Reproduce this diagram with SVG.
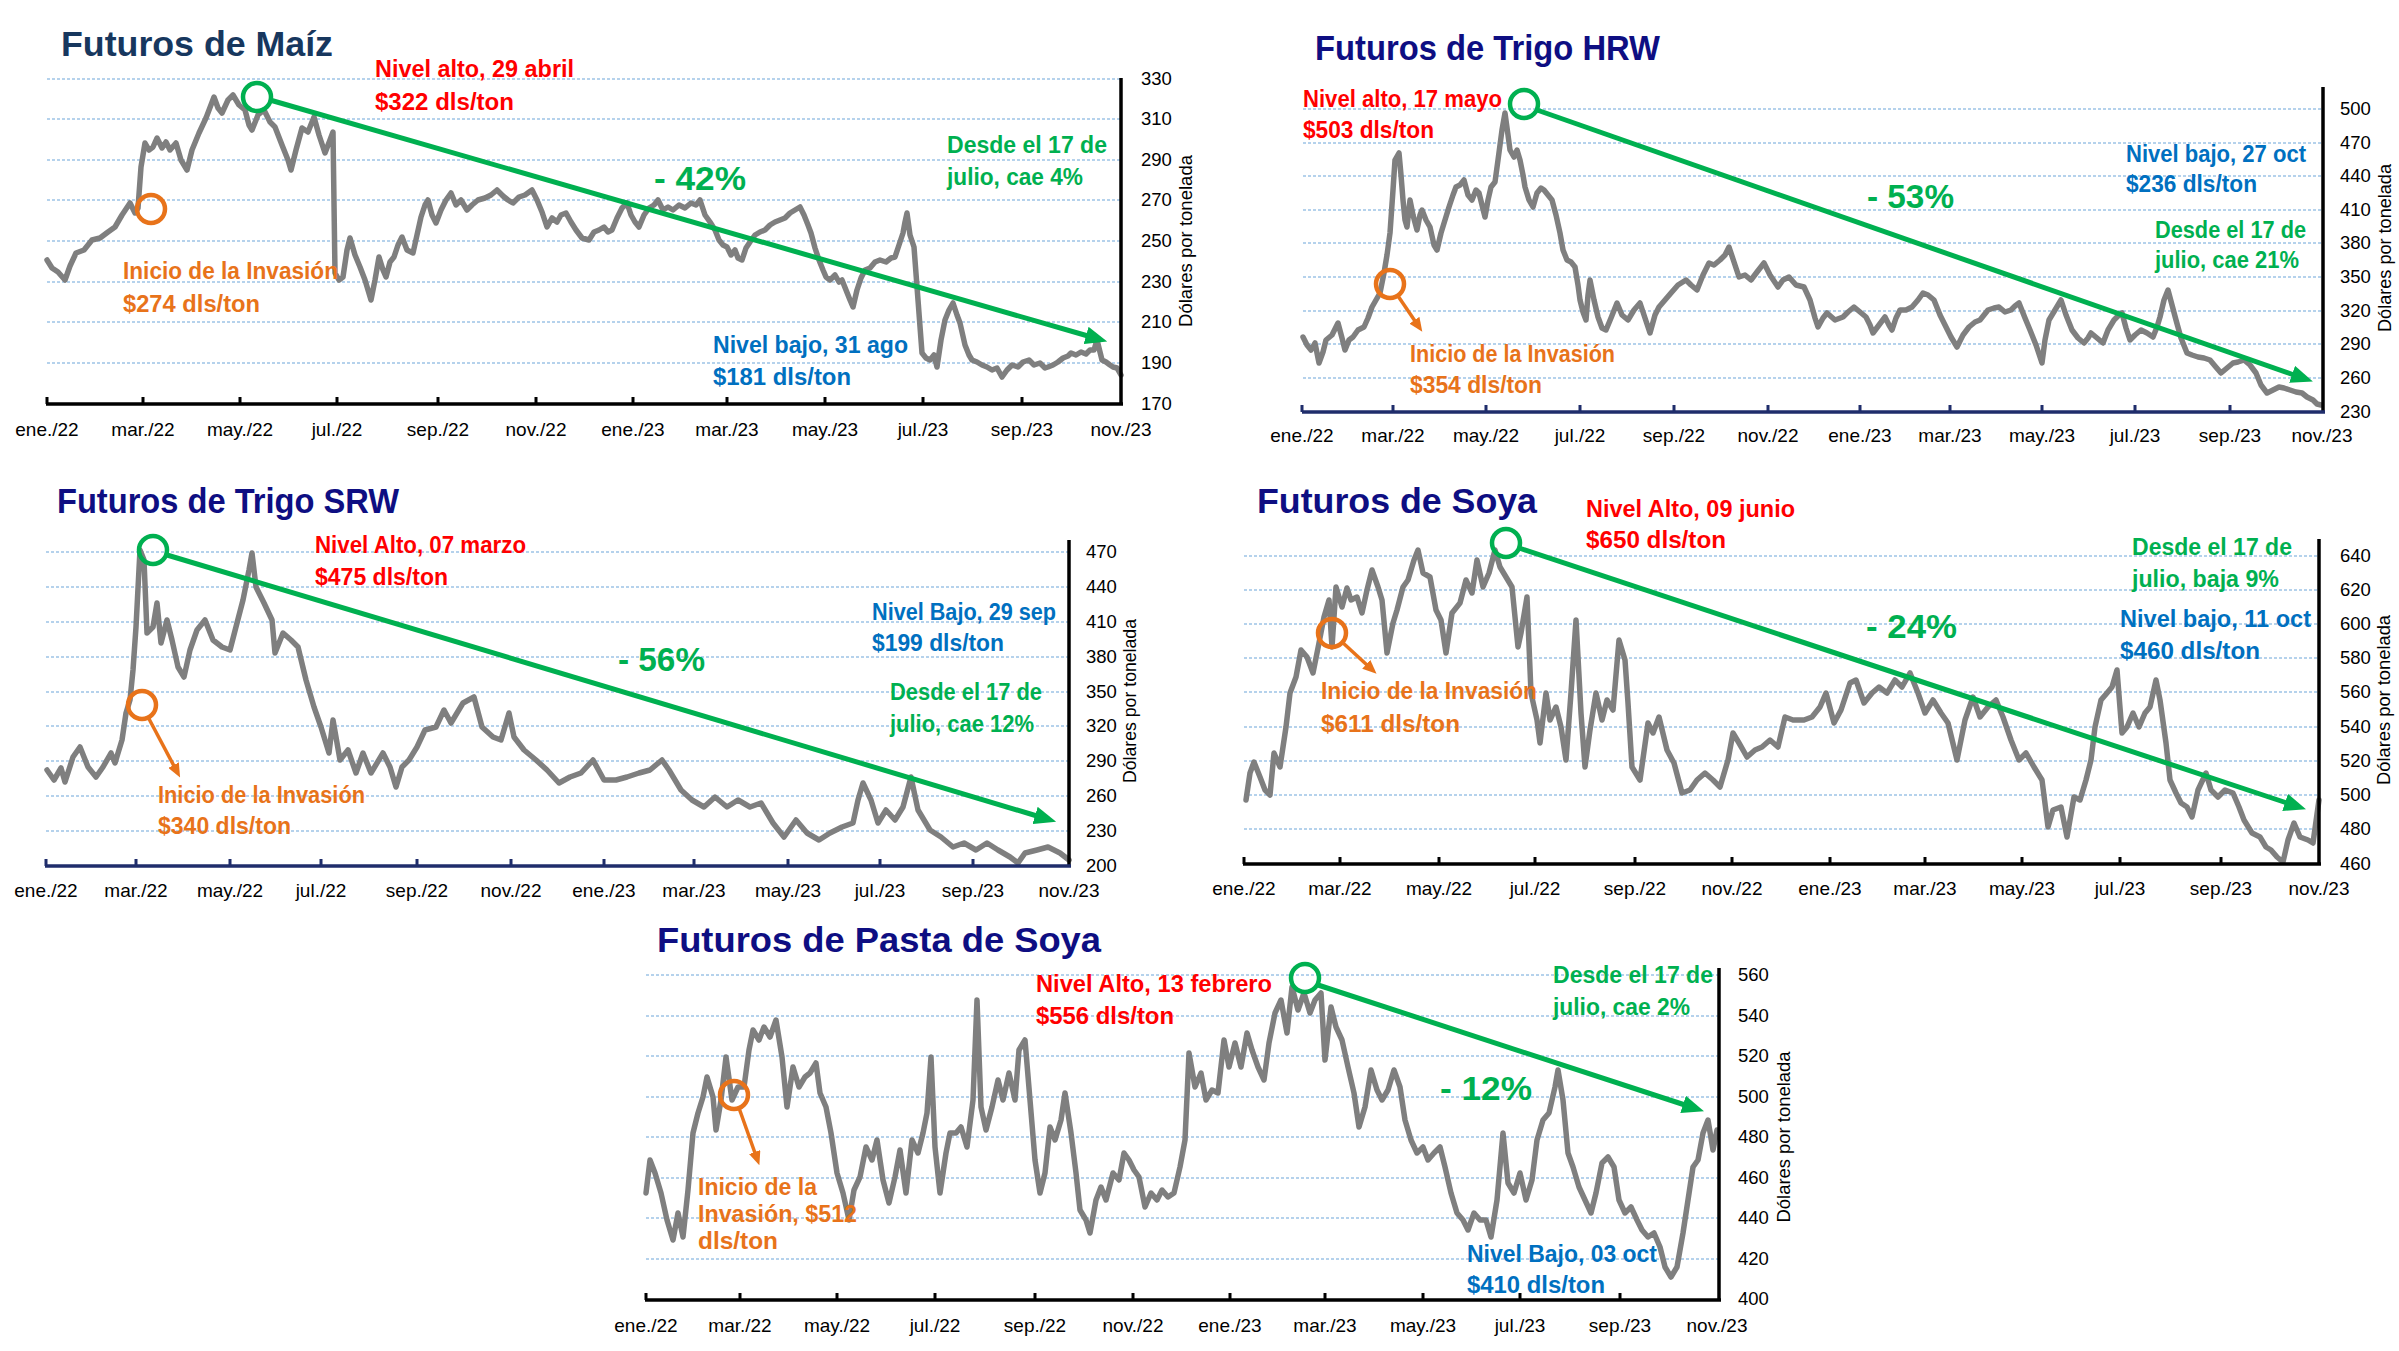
<svg xmlns="http://www.w3.org/2000/svg" width="2399" height="1351" viewBox="0 0 2399 1351">
<style>
.grid{stroke:#9DC3E6;stroke-width:1.3;stroke-dasharray:3 2;fill:none}
.series{fill:none;stroke:#7F7F7F;stroke-width:5.5;stroke-linejoin:round;stroke-linecap:round}
.ax{stroke:#000;stroke-width:3.5;fill:none}
.axn{stroke:#1F2D6B}
.tick{stroke-width:3}
.lbl{font-family:"Liberation Sans",Arial,sans-serif;font-size:19px;fill:#000;text-anchor:middle}
.ylbl{font-family:"Liberation Sans",Arial,sans-serif;font-size:18.5px;fill:#000}
.ytitle{font-family:"Liberation Sans",Arial,sans-serif;font-size:18px;fill:#000;text-anchor:middle}
.title{font-family:"Liberation Sans",Arial,sans-serif;font-weight:bold;font-size:35px;fill:#0E0E82}
.ann{font-family:"Liberation Sans",Arial,sans-serif;font-weight:bold;font-size:23px}
.pct{font-size:34px}
.red{fill:#FF0000}.blue{fill:#0070C0}.grn{fill:#00B050}.org{fill:#E8731A}
.gc{fill:none;stroke:#00B050;stroke-width:4.5}
.oc{fill:none;stroke:#E8731A;stroke-width:4.5}
.garrow{stroke:#00B050;stroke-width:5;fill:none;marker-end:url(#gh)}
.oarrow{stroke:#E8731A;stroke-width:3.5;fill:none;marker-end:url(#oh)}
</style>
<defs>
<marker id="gh" markerUnits="userSpaceOnUse" markerWidth="22" markerHeight="18" viewBox="0 0 22 18" refX="2" refY="9" orient="auto"><path d="M0,0 L22,9 L0,18 z" fill="#00B050"/></marker>
<marker id="oh" markerUnits="userSpaceOnUse" markerWidth="14" markerHeight="12" viewBox="0 0 14 12" refX="1" refY="6" orient="auto"><path d="M0,0 L14,6 L0,12 z" fill="#E8731A"/></marker>
</defs>
<rect width="2399" height="1351" fill="#fff"/>

<!-- ============ Chart 1: Maíz ============ -->
<g id="chart-maiz">
<g id="maiz-grid">
<line class="grid" x1="47" y1="79" x2="1121" y2="79"/>
<line class="grid" x1="47" y1="119" x2="1121" y2="119"/>
<line class="grid" x1="47" y1="160" x2="1121" y2="160"/>
<line class="grid" x1="47" y1="200" x2="1121" y2="200"/>
<line class="grid" x1="47" y1="241" x2="1121" y2="241"/>
<line class="grid" x1="47" y1="282" x2="1121" y2="282"/>
<line class="grid" x1="47" y1="322" x2="1121" y2="322"/>
<line class="grid" x1="47" y1="363" x2="1121" y2="363"/>
</g>
<polyline id="maiz-series" class="series" points="47,260 52,268 58,272 65,280 70,266 76,253 84,250 92,240 100,238 108,232 115,227 122,215 130,203 135,213 138,208 141,167 145,143 149,150 153,147 157,138 162,148 166,142 170,150 176,143 181,160 187,170 192,150 199,133 206,118 214,97 218,108 222,113 228,100 233,95 239,105 245,110 249,125 252,130 258,115 264,110 270,122 275,127 282,145 288,160 291,170 296,150 302,128 308,132 314,117 319,135 325,153 330,140 333,132 335,273 339,280 343,277 347,250 350,238 355,255 360,267 365,280 371,300 375,280 379,257 383,270 386,277 390,262 394,257 398,245 402,237 407,250 413,253 417,235 421,217 425,205 428,200 432,215 436,223 441,210 446,200 451,193 456,205 461,200 467,210 472,205 478,200 485,198 491,195 497,190 503,196 508,200 513,203 519,197 525,195 532,190 537,200 542,212 547,227 552,218 557,222 561,215 566,213 571,222 576,230 582,238 589,240 594,232 599,230 604,227 608,232 612,230 617,218 622,208 627,203 631,215 635,222 639,227 644,215 649,208 654,205 658,200 663,210 668,207 673,210 679,205 685,208 691,203 696,205 700,200 705,215 710,222 715,230 719,240 723,245 727,247 731,255 735,250 738,258 742,260 746,248 750,242 755,235 760,232 765,230 770,225 775,222 780,220 785,218 790,213 795,210 800,207 804,215 808,225 811,233 815,248 819,260 823,270 826,277 830,280 835,275 839,282 842,280 846,290 850,300 853,307 857,290 861,278 865,270 870,268 875,262 880,260 886,262 891,258 895,257 899,245 903,233 905,222 907,213 910,235 914,247 918,300 922,353 926,358 930,360 934,355 937,367 941,340 945,320 949,310 953,303 957,315 960,323 965,345 969,355 972,360 977,362 982,365 987,367 992,370 997,368 1002,377 1007,370 1012,365 1018,367 1023,362 1029,360 1034,365 1040,363 1045,368 1048,367 1053,365 1058,362 1063,358 1068,356 1071,353 1076,355 1081,352 1086,354 1090,350 1094,350 1097,340 1100,352 1102,360 1106,362 1110,365 1113,367 1117,368 1121,375"/>
<g id="maiz-axes">
<line class="ax" x1="1121" y1="78" x2="1121" y2="405"/>
<line class="ax" x1="46" y1="404" x2="1123" y2="404"/>
<path class="ax tick" d="M47,404V397M143,404V397M240,404V397M337,404V397M438,404V397M536,404V397M633,404V397M727,404V397M825,404V397M923,404V397M1022,404V397"/>
<text class="ylbl" x="1141" y="85">330</text>
<text class="ylbl" x="1141" y="125">310</text>
<text class="ylbl" x="1141" y="166">290</text>
<text class="ylbl" x="1141" y="206">270</text>
<text class="ylbl" x="1141" y="247">250</text>
<text class="ylbl" x="1141" y="288">230</text>
<text class="ylbl" x="1141" y="328">210</text>
<text class="ylbl" x="1141" y="369">190</text>
<text class="ylbl" x="1141" y="410">170</text>
<text class="ytitle" transform="translate(1192,241) rotate(-90)" textLength="172" lengthAdjust="spacingAndGlyphs">Dólares por tonelada</text>
<text class="lbl" x="47" y="436">ene./22</text>
<text class="lbl" x="143" y="436">mar./22</text>
<text class="lbl" x="240" y="436">may./22</text>
<text class="lbl" x="337" y="436">jul./22</text>
<text class="lbl" x="438" y="436">sep./22</text>
<text class="lbl" x="536" y="436">nov./22</text>
<text class="lbl" x="633" y="436">ene./23</text>
<text class="lbl" x="727" y="436">mar./23</text>
<text class="lbl" x="825" y="436">may./23</text>
<text class="lbl" x="923" y="436">jul./23</text>
<text class="lbl" x="1022" y="436">sep./23</text>
<text class="lbl" x="1121" y="436">nov./23</text>
</g>
<text id="maiz-title" class="title" x="61" y="56" textLength="272" lengthAdjust="spacingAndGlyphs" style="fill:#17375E">Futuros de Maíz</text>
<g id="maiz-high"><circle class="gc" cx="257" cy="97" r="14"/>
<text class="ann red" x="375" y="77" textLength="199" lengthAdjust="spacingAndGlyphs">Nivel alto, 29 abril</text>
<text class="ann red" x="375" y="110" textLength="139" lengthAdjust="spacingAndGlyphs">$322 dls/ton</text></g>
<g id="maiz-invasion"><circle class="oc" cx="151" cy="209" r="14"/>
<text class="ann org" x="123" y="279" textLength="215" lengthAdjust="spacingAndGlyphs">Inicio de la Invasión</text>
<text class="ann org" x="123" y="312" textLength="137" lengthAdjust="spacingAndGlyphs">$274 dls/ton</text></g>
<g id="maiz-low">
<text class="ann blue" x="713" y="353" textLength="195" lengthAdjust="spacingAndGlyphs">Nivel bajo, 31 ago</text>
<text class="ann blue" x="713" y="385" textLength="138" lengthAdjust="spacingAndGlyphs">$181 dls/ton</text></g>
<g id="maiz-change">
<text class="ann grn pct" x="654" y="190" textLength="92" lengthAdjust="spacingAndGlyphs">- 42%</text>
<text class="ann grn" x="947" y="153" textLength="160" lengthAdjust="spacingAndGlyphs">Desde el 17 de</text>
<text class="ann grn" x="947" y="185" textLength="136" lengthAdjust="spacingAndGlyphs">julio, cae 4%</text></g>
</g>

<!-- ============ Chart 2: Trigo HRW ============ -->
<g id="chart-hrw">
<g id="hrw-grid">
<line class="grid" x1="1303" y1="109" x2="2323" y2="109"/>
<line class="grid" x1="1303" y1="143" x2="2323" y2="143"/>
<line class="grid" x1="1303" y1="176" x2="2323" y2="176"/>
<line class="grid" x1="1303" y1="210" x2="2323" y2="210"/>
<line class="grid" x1="1303" y1="243" x2="2323" y2="243"/>
<line class="grid" x1="1303" y1="277" x2="2323" y2="277"/>
<line class="grid" x1="1303" y1="311" x2="2323" y2="311"/>
<line class="grid" x1="1303" y1="344" x2="2323" y2="344"/>
<line class="grid" x1="1303" y1="378" x2="2323" y2="378"/>
</g>
<polyline id="hrw-series" class="series" points="1303,337 1307,345 1311,350 1315,343 1319,363 1323,352 1326,340 1332,335 1338,323 1342,338 1345,350 1349,340 1353,337 1358,330 1364,327 1368,318 1372,307 1376,300 1380,293 1384,273 1387,255 1390,233 1393,190 1395,160 1399,153 1401,175 1403,200 1405,220 1407,227 1410,200 1413,215 1417,230 1420,215 1422,210 1426,220 1430,227 1434,245 1437,250 1441,233 1445,220 1449,207 1453,195 1456,187 1460,185 1464,180 1468,195 1472,200 1476,190 1479,193 1482,205 1485,217 1488,200 1491,187 1495,182 1498,160 1502,130 1505,113 1508,135 1510,150 1514,157 1517,150 1520,160 1523,175 1525,187 1529,200 1533,207 1537,193 1541,188 1544,190 1548,195 1552,200 1556,215 1560,233 1563,250 1567,260 1571,262 1575,267 1578,285 1580,300 1583,312 1586,320 1588,295 1590,280 1594,300 1598,317 1602,328 1606,330 1611,318 1617,303 1622,315 1628,320 1634,310 1640,303 1645,318 1650,333 1655,315 1659,307 1665,300 1671,293 1678,285 1686,280 1691,285 1697,290 1703,275 1709,263 1714,265 1720,260 1725,255 1729,247 1734,262 1739,277 1745,275 1751,280 1757,272 1764,263 1770,275 1778,287 1783,280 1789,277 1796,285 1804,287 1810,300 1815,318 1818,327 1823,318 1827,313 1835,320 1843,317 1848,312 1854,307 1860,312 1866,317 1870,325 1873,333 1879,325 1885,317 1889,325 1892,330 1896,318 1900,310 1906,310 1912,307 1918,300 1923,293 1928,295 1934,300 1940,315 1946,327 1951,337 1957,347 1963,335 1969,327 1975,322 1980,320 1984,315 1988,310 1994,308 1999,307 2005,312 2011,310 2015,306 2019,303 2025,318 2030,330 2036,345 2042,363 2045,340 2049,320 2055,310 2061,300 2066,315 2072,330 2078,338 2084,343 2088,338 2091,333 2097,338 2103,343 2108,330 2114,320 2118,316 2122,313 2126,328 2130,340 2135,335 2141,330 2147,333 2153,337 2157,327 2160,317 2164,300 2168,290 2172,305 2176,320 2181,338 2187,353 2192,355 2198,357 2204,358 2210,360 2215,366 2221,373 2227,368 2233,363 2238,362 2244,360 2250,365 2256,373 2261,385 2267,393 2273,390 2279,387 2284,388 2290,390 2296,392 2302,393 2307,397 2313,400 2317,404 2321,405"/>
<g id="hrw-axes">
<line class="ax" x1="2323" y1="87" x2="2323" y2="413"/>
<line class="ax axn" x1="1302" y1="412" x2="2325" y2="412"/>
<path class="ax axn tick" d="M1302,412V405M1393,412V405M1486,412V405M1580,412V405M1674,412V405M1768,412V405M1860,412V405M1950,412V405M2042,412V405M2135,412V405M2230,412V405"/>
<text class="ylbl" x="2340" y="115">500</text>
<text class="ylbl" x="2340" y="149">470</text>
<text class="ylbl" x="2340" y="182">440</text>
<text class="ylbl" x="2340" y="216">410</text>
<text class="ylbl" x="2340" y="249">380</text>
<text class="ylbl" x="2340" y="283">350</text>
<text class="ylbl" x="2340" y="317">320</text>
<text class="ylbl" x="2340" y="350">290</text>
<text class="ylbl" x="2340" y="384">260</text>
<text class="ylbl" x="2340" y="418">230</text>
<text class="ytitle" transform="translate(2391,248) rotate(-90)" textLength="168" lengthAdjust="spacingAndGlyphs">Dólares por tonelada</text>
<text class="lbl" x="1302" y="442">ene./22</text>
<text class="lbl" x="1393" y="442">mar./22</text>
<text class="lbl" x="1486" y="442">may./22</text>
<text class="lbl" x="1580" y="442">jul./22</text>
<text class="lbl" x="1674" y="442">sep./22</text>
<text class="lbl" x="1768" y="442">nov./22</text>
<text class="lbl" x="1860" y="442">ene./23</text>
<text class="lbl" x="1950" y="442">mar./23</text>
<text class="lbl" x="2042" y="442">may./23</text>
<text class="lbl" x="2135" y="442">jul./23</text>
<text class="lbl" x="2230" y="442">sep./23</text>
<text class="lbl" x="2322" y="442">nov./23</text>
</g>
<text id="hrw-title" class="title" x="1315" y="60" textLength="345" lengthAdjust="spacingAndGlyphs">Futuros de Trigo HRW</text>
<g id="hrw-high"><circle class="gc" cx="1524" cy="104" r="14"/>
<text class="ann red" x="1303" y="107" textLength="199" lengthAdjust="spacingAndGlyphs">Nivel alto, 17 mayo</text>
<text class="ann red" x="1303" y="138" textLength="131" lengthAdjust="spacingAndGlyphs">$503 dls/ton</text></g>
<g id="hrw-invasion"><circle class="oc" cx="1390" cy="284" r="14"/>
<text class="ann org" x="1410" y="362" textLength="205" lengthAdjust="spacingAndGlyphs">Inicio de la Invasión</text>
<text class="ann org" x="1410" y="393" textLength="132" lengthAdjust="spacingAndGlyphs">$354 dls/ton</text></g>
<g id="hrw-low">
<text class="ann blue" x="2126" y="162" textLength="180" lengthAdjust="spacingAndGlyphs">Nivel bajo, 27 oct</text>
<text class="ann blue" x="2126" y="192" textLength="131" lengthAdjust="spacingAndGlyphs">$236 dls/ton</text></g>
<g id="hrw-change">
<text class="ann grn pct" x="1867" y="208" textLength="87" lengthAdjust="spacingAndGlyphs">- 53%</text>
<text class="ann grn" x="2155" y="238" textLength="151" lengthAdjust="spacingAndGlyphs">Desde el 17 de</text>
<text class="ann grn" x="2155" y="268" textLength="144" lengthAdjust="spacingAndGlyphs">julio, cae 21%</text></g>
</g>

<!-- ============ Chart 3: Trigo SRW ============ -->
<g id="chart-srw">
<g id="srw-grid">
<line class="grid" x1="46" y1="552" x2="1069" y2="552"/>
<line class="grid" x1="46" y1="587" x2="1069" y2="587"/>
<line class="grid" x1="46" y1="622" x2="1069" y2="622"/>
<line class="grid" x1="46" y1="657" x2="1069" y2="657"/>
<line class="grid" x1="46" y1="692" x2="1069" y2="692"/>
<line class="grid" x1="46" y1="726" x2="1069" y2="726"/>
<line class="grid" x1="46" y1="761" x2="1069" y2="761"/>
<line class="grid" x1="46" y1="796" x2="1069" y2="796"/>
<line class="grid" x1="46" y1="831" x2="1069" y2="831"/>
</g>
<polyline id="srw-series" class="series" points="47,770 54,780 61,768 65,782 73,757 80,747 88,767 96,777 103,767 111,753 115,763 122,740 126,713 130,700 133,670 136,627 140,550 144,560 147,633 153,627 157,603 161,643 167,620 172,640 178,667 184,677 190,650 197,630 205,620 213,640 222,647 230,650 237,623 243,600 249,570 252,553 256,587 264,603 272,620 275,653 283,633 291,640 298,647 306,680 314,707 321,727 329,753 333,720 340,760 348,750 356,773 363,753 371,773 383,753 390,767 396,787 402,767 409,760 417,747 425,730 436,727 444,710 451,723 463,703 474,697 482,727 493,737 501,740 509,713 514,737 524,750 536,760 547,770 559,783 570,777 581,773 593,760 604,780 616,780 627,777 639,773 650,770 662,760 669,770 681,790 692,800 704,807 715,797 727,807 738,800 750,807 761,803 773,823 784,837 796,820 807,833 819,840 830,833 842,827 853,823 858,800 863,783 871,800 878,823 886,810 895,820 903,807 911,777 918,810 930,830 941,837 953,847 964,843 976,850 987,843 998,850 1010,857 1018,863 1025,853 1037,850 1048,847 1060,853 1069,860"/>
<g id="srw-axes">
<line class="ax" x1="1069" y1="540" x2="1069" y2="867"/>
<line class="ax axn" x1="45" y1="866" x2="1071" y2="866"/>
<path class="ax axn tick" d="M46,866V859M136,866V859M230,866V859M321,866V859M417,866V859M511,866V859M604,866V859M694,866V859M788,866V859M880,866V859M973,866V859"/>
<text class="ylbl" x="1086" y="558">470</text>
<text class="ylbl" x="1086" y="593">440</text>
<text class="ylbl" x="1086" y="628">410</text>
<text class="ylbl" x="1086" y="663">380</text>
<text class="ylbl" x="1086" y="698">350</text>
<text class="ylbl" x="1086" y="732">320</text>
<text class="ylbl" x="1086" y="767">290</text>
<text class="ylbl" x="1086" y="802">260</text>
<text class="ylbl" x="1086" y="837">230</text>
<text class="ylbl" x="1086" y="872">200</text>
<text class="ytitle" transform="translate(1136,701) rotate(-90)" textLength="164" lengthAdjust="spacingAndGlyphs">Dólares por tonelada</text>
<text class="lbl" x="46" y="897">ene./22</text>
<text class="lbl" x="136" y="897">mar./22</text>
<text class="lbl" x="230" y="897">may./22</text>
<text class="lbl" x="321" y="897">jul./22</text>
<text class="lbl" x="417" y="897">sep./22</text>
<text class="lbl" x="511" y="897">nov./22</text>
<text class="lbl" x="604" y="897">ene./23</text>
<text class="lbl" x="694" y="897">mar./23</text>
<text class="lbl" x="788" y="897">may./23</text>
<text class="lbl" x="880" y="897">jul./23</text>
<text class="lbl" x="973" y="897">sep./23</text>
<text class="lbl" x="1069" y="897">nov./23</text>
</g>
<text id="srw-title" class="title" x="57" y="513" textLength="342" lengthAdjust="spacingAndGlyphs">Futuros de Trigo SRW</text>
<g id="srw-high"><circle class="gc" cx="153" cy="550" r="14"/>
<text class="ann red" x="315" y="553" textLength="211" lengthAdjust="spacingAndGlyphs">Nivel Alto, 07 marzo</text>
<text class="ann red" x="315" y="585" textLength="133" lengthAdjust="spacingAndGlyphs">$475 dls/ton</text></g>
<g id="srw-invasion"><circle class="oc" cx="142" cy="705" r="14"/>
<text class="ann org" x="158" y="803" textLength="207" lengthAdjust="spacingAndGlyphs">Inicio de la Invasión</text>
<text class="ann org" x="158" y="834" textLength="133" lengthAdjust="spacingAndGlyphs">$340 dls/ton</text></g>
<g id="srw-low">
<text class="ann blue" x="872" y="620" textLength="184" lengthAdjust="spacingAndGlyphs">Nivel Bajo, 29 sep</text>
<text class="ann blue" x="872" y="651" textLength="132" lengthAdjust="spacingAndGlyphs">$199 dls/ton</text></g>
<g id="srw-change">
<text class="ann grn pct" x="618" y="671" textLength="87" lengthAdjust="spacingAndGlyphs">- 56%</text>
<text class="ann grn" x="890" y="700" textLength="152" lengthAdjust="spacingAndGlyphs">Desde el 17 de</text>
<text class="ann grn" x="890" y="732" textLength="144" lengthAdjust="spacingAndGlyphs">julio, cae 12%</text></g>
</g>

<!-- ============ Chart 4: Soya ============ -->
<g id="chart-soya">
<g id="soya-grid">
<line class="grid" x1="1244" y1="556" x2="2319" y2="556"/>
<line class="grid" x1="1244" y1="590" x2="2319" y2="590"/>
<line class="grid" x1="1244" y1="624" x2="2319" y2="624"/>
<line class="grid" x1="1244" y1="658" x2="2319" y2="658"/>
<line class="grid" x1="1244" y1="692" x2="2319" y2="692"/>
<line class="grid" x1="1244" y1="727" x2="2319" y2="727"/>
<line class="grid" x1="1244" y1="761" x2="2319" y2="761"/>
<line class="grid" x1="1244" y1="795" x2="2319" y2="795"/>
<line class="grid" x1="1244" y1="829" x2="2319" y2="829"/>
</g>
<polyline id="soya-series" class="series" points="1246,800 1250,773 1254,762 1260,777 1265,790 1270,795 1274,753 1280,767 1286,727 1290,693 1296,677 1301,650 1307,657 1313,673 1319,643 1324,617 1329,600 1332,647 1336,587 1342,607 1347,588 1351,600 1357,597 1362,613 1367,590 1372,570 1378,587 1382,600 1387,653 1393,623 1397,610 1403,587 1408,580 1414,560 1418,550 1423,573 1430,577 1436,610 1441,620 1446,653 1452,613 1460,603 1466,580 1472,593 1477,560 1483,587 1489,573 1495,550 1500,567 1506,577 1512,587 1518,647 1521,633 1527,597 1531,693 1537,720 1540,743 1546,693 1550,720 1556,707 1561,727 1566,760 1571,693 1576,620 1581,713 1585,767 1590,730 1596,693 1602,720 1607,700 1613,710 1619,640 1625,660 1628,703 1632,767 1640,780 1648,723 1653,733 1659,717 1667,750 1674,763 1682,793 1690,790 1697,780 1705,773 1713,780 1720,787 1728,760 1733,733 1739,743 1747,757 1755,750 1762,747 1770,740 1778,747 1785,717 1793,720 1804,720 1812,717 1820,707 1826,693 1834,723 1841,710 1850,683 1856,680 1864,703 1872,693 1879,687 1887,693 1895,680 1902,687 1910,673 1918,693 1925,713 1933,700 1941,713 1948,723 1957,760 1965,720 1973,697 1980,717 1988,707 1996,700 2003,717 2011,740 2019,760 2026,753 2034,767 2042,780 2048,827 2053,810 2061,807 2067,837 2074,797 2080,800 2086,780 2091,760 2095,727 2101,700 2107,693 2112,687 2117,670 2122,733 2127,727 2133,713 2139,727 2145,713 2150,707 2156,680 2160,700 2166,743 2170,780 2176,793 2181,803 2187,807 2192,817 2198,790 2206,773 2211,790 2218,797 2225,790 2233,793 2239,807 2244,820 2252,833 2260,837 2266,847 2271,850 2277,857 2283,862 2288,840 2294,823 2300,837 2308,840 2313,843 2319,800"/>
<g id="soya-axes">
<line class="ax" x1="2319" y1="539" x2="2319" y2="865"/>
<line class="ax" x1="1243" y1="864" x2="2321" y2="864"/>
<path class="ax tick" d="M1244,864V857M1340,864V857M1439,864V857M1535,864V857M1635,864V857M1732,864V857M1830,864V857M1925,864V857M2022,864V857M2120,864V857M2221,864V857"/>
<text class="ylbl" x="2340" y="562">640</text>
<text class="ylbl" x="2340" y="596">620</text>
<text class="ylbl" x="2340" y="630">600</text>
<text class="ylbl" x="2340" y="664">580</text>
<text class="ylbl" x="2340" y="698">560</text>
<text class="ylbl" x="2340" y="733">540</text>
<text class="ylbl" x="2340" y="767">520</text>
<text class="ylbl" x="2340" y="801">500</text>
<text class="ylbl" x="2340" y="835">480</text>
<text class="ylbl" x="2340" y="870">460</text>
<text class="ytitle" transform="translate(2390,700) rotate(-90)" textLength="170" lengthAdjust="spacingAndGlyphs">Dólares por tonelada</text>
<text class="lbl" x="1244" y="895">ene./22</text>
<text class="lbl" x="1340" y="895">mar./22</text>
<text class="lbl" x="1439" y="895">may./22</text>
<text class="lbl" x="1535" y="895">jul./22</text>
<text class="lbl" x="1635" y="895">sep./22</text>
<text class="lbl" x="1732" y="895">nov./22</text>
<text class="lbl" x="1830" y="895">ene./23</text>
<text class="lbl" x="1925" y="895">mar./23</text>
<text class="lbl" x="2022" y="895">may./23</text>
<text class="lbl" x="2120" y="895">jul./23</text>
<text class="lbl" x="2221" y="895">sep./23</text>
<text class="lbl" x="2319" y="895">nov./23</text>
</g>
<text id="soya-title" class="title" x="1257" y="513" textLength="280" lengthAdjust="spacingAndGlyphs">Futuros de Soya</text>
<g id="soya-high"><circle class="gc" cx="1506" cy="543" r="14"/>
<text class="ann red" x="1586" y="517" textLength="209" lengthAdjust="spacingAndGlyphs">Nivel Alto, 09 junio</text>
<text class="ann red" x="1586" y="548" textLength="140" lengthAdjust="spacingAndGlyphs">$650 dls/ton</text></g>
<g id="soya-invasion"><circle class="oc" cx="1332" cy="633" r="14"/>
<text class="ann org" x="1321" y="699" textLength="216" lengthAdjust="spacingAndGlyphs">Inicio de la Invasión</text>
<text class="ann org" x="1321" y="732" textLength="139" lengthAdjust="spacingAndGlyphs">$611 dls/ton</text></g>
<g id="soya-low">
<text class="ann blue" x="2120" y="627" textLength="191" lengthAdjust="spacingAndGlyphs">Nivel bajo, 11 oct</text>
<text class="ann blue" x="2120" y="659" textLength="140" lengthAdjust="spacingAndGlyphs">$460 dls/ton</text></g>
<g id="soya-change">
<text class="ann grn pct" x="1866" y="638" textLength="91" lengthAdjust="spacingAndGlyphs">- 24%</text>
<text class="ann grn" x="2132" y="555" textLength="160" lengthAdjust="spacingAndGlyphs">Desde el 17 de</text>
<text class="ann grn" x="2132" y="587" textLength="147" lengthAdjust="spacingAndGlyphs">julio, baja 9%</text></g>
</g>

<!-- ============ Chart 5: Pasta de Soya ============ -->
<g id="chart-pasta">
<g id="pasta-grid">
<line class="grid" x1="646" y1="975" x2="1719" y2="975"/>
<line class="grid" x1="646" y1="1016" x2="1719" y2="1016"/>
<line class="grid" x1="646" y1="1056" x2="1719" y2="1056"/>
<line class="grid" x1="646" y1="1097" x2="1719" y2="1097"/>
<line class="grid" x1="646" y1="1137" x2="1719" y2="1137"/>
<line class="grid" x1="646" y1="1178" x2="1719" y2="1178"/>
<line class="grid" x1="646" y1="1218" x2="1719" y2="1218"/>
<line class="grid" x1="646" y1="1259" x2="1719" y2="1259"/>
</g>
<polyline id="pasta-series" class="series" points="646,1193 650,1160 655,1173 661,1193 667,1220 673,1240 678,1213 683,1237 688,1190 693,1133 698,1113 703,1097 707,1077 713,1097 716,1130 721,1100 726,1057 732,1100 738,1087 744,1087 749,1050 753,1030 759,1040 764,1027 770,1037 776,1020 782,1057 787,1107 793,1067 799,1087 805,1077 810,1073 816,1063 820,1093 826,1107 831,1133 837,1173 843,1193 849,1220 854,1190 860,1177 866,1147 872,1160 877,1140 883,1180 889,1203 895,1177 900,1150 906,1193 912,1140 918,1153 923,1133 927,1113 931,1057 935,1147 940,1193 946,1153 950,1133 956,1133 961,1127 967,1147 973,1100 977,1000 981,1107 986,1130 992,1107 998,1080 1003,1100 1009,1073 1015,1100 1019,1050 1025,1040 1030,1100 1035,1160 1040,1193 1045,1173 1050,1127 1055,1140 1061,1120 1065,1093 1071,1133 1076,1173 1080,1210 1086,1220 1090,1233 1096,1200 1101,1187 1106,1200 1113,1173 1119,1180 1124,1153 1129,1160 1134,1170 1139,1177 1145,1207 1151,1193 1157,1200 1162,1190 1168,1197 1174,1193 1180,1167 1185,1140 1189,1053 1195,1087 1201,1073 1206,1100 1212,1090 1218,1093 1224,1040 1229,1067 1235,1043 1241,1067 1247,1033 1252,1050 1258,1067 1264,1080 1269,1043 1275,1013 1281,1000 1287,1033 1292,987 1298,1010 1304,993 1310,1013 1315,1000 1321,993 1325,1060 1331,1007 1336,1027 1342,1040 1348,1067 1354,1093 1359,1127 1365,1107 1371,1070 1377,1090 1382,1100 1388,1090 1394,1070 1400,1087 1405,1120 1411,1140 1417,1153 1423,1147 1428,1160 1434,1153 1440,1147 1445,1167 1451,1193 1457,1213 1463,1220 1468,1230 1474,1213 1480,1220 1486,1220 1491,1237 1497,1200 1503,1133 1508,1183 1514,1193 1520,1173 1526,1200 1532,1180 1537,1140 1543,1120 1549,1113 1555,1087 1558,1070 1563,1100 1568,1153 1573,1167 1579,1187 1585,1200 1591,1213 1596,1193 1602,1163 1608,1157 1614,1167 1619,1200 1625,1213 1631,1207 1637,1220 1642,1230 1648,1237 1654,1233 1660,1247 1665,1267 1671,1277 1677,1267 1683,1233 1688,1200 1693,1167 1698,1160 1703,1133 1708,1120 1713,1150 1717,1130"/>
<g id="pasta-axes">
<line class="ax" x1="1719" y1="968" x2="1719" y2="1301"/>
<line class="ax" x1="645" y1="1300" x2="1721" y2="1300"/>
<path class="ax tick" d="M646,1300V1293M740,1300V1293M837,1300V1293M935,1300V1293M1035,1300V1293M1133,1300V1293M1230,1300V1293M1325,1300V1293M1423,1300V1293M1520,1300V1293M1620,1300V1293"/>
<text class="ylbl" x="1738" y="981">560</text>
<text class="ylbl" x="1738" y="1022">540</text>
<text class="ylbl" x="1738" y="1062">520</text>
<text class="ylbl" x="1738" y="1103">500</text>
<text class="ylbl" x="1738" y="1143">480</text>
<text class="ylbl" x="1738" y="1184">460</text>
<text class="ylbl" x="1738" y="1224">440</text>
<text class="ylbl" x="1738" y="1265">420</text>
<text class="ylbl" x="1738" y="1305">400</text>
<text class="ytitle" transform="translate(1790,1137) rotate(-90)" textLength="171" lengthAdjust="spacingAndGlyphs">Dólares por tonelada</text>
<text class="lbl" x="646" y="1332">ene./22</text>
<text class="lbl" x="740" y="1332">mar./22</text>
<text class="lbl" x="837" y="1332">may./22</text>
<text class="lbl" x="935" y="1332">jul./22</text>
<text class="lbl" x="1035" y="1332">sep./22</text>
<text class="lbl" x="1133" y="1332">nov./22</text>
<text class="lbl" x="1230" y="1332">ene./23</text>
<text class="lbl" x="1325" y="1332">mar./23</text>
<text class="lbl" x="1423" y="1332">may./23</text>
<text class="lbl" x="1520" y="1332">jul./23</text>
<text class="lbl" x="1620" y="1332">sep./23</text>
<text class="lbl" x="1717" y="1332">nov./23</text>
</g>
<text id="pasta-title" class="title" x="657" y="952" textLength="444" lengthAdjust="spacingAndGlyphs">Futuros de Pasta de Soya</text>
<g id="pasta-high"><circle class="gc" cx="1305" cy="978" r="14"/>
<text class="ann red" x="1036" y="992" textLength="236" lengthAdjust="spacingAndGlyphs">Nivel Alto, 13 febrero</text>
<text class="ann red" x="1036" y="1024" textLength="138" lengthAdjust="spacingAndGlyphs">$556 dls/ton</text></g>
<g id="pasta-invasion"><circle class="oc" cx="734" cy="1095" r="14"/>
<text class="ann org" x="698" y="1195" textLength="119" lengthAdjust="spacingAndGlyphs">Inicio de la</text>
<text class="ann org" x="698" y="1222" textLength="159" lengthAdjust="spacingAndGlyphs">Invasión, $512</text>
<text class="ann org" x="698" y="1249" textLength="80" lengthAdjust="spacingAndGlyphs">dls/ton</text></g>
<g id="pasta-low">
<text class="ann blue" x="1467" y="1262" textLength="190" lengthAdjust="spacingAndGlyphs">Nivel Bajo, 03 oct</text>
<text class="ann blue" x="1467" y="1293" textLength="138" lengthAdjust="spacingAndGlyphs">$410 dls/ton</text></g>
<g id="pasta-change">
<text class="ann grn pct" x="1440" y="1100" textLength="92" lengthAdjust="spacingAndGlyphs">- 12%</text>
<text class="ann grn" x="1553" y="983" textLength="160" lengthAdjust="spacingAndGlyphs">Desde el 17 de</text>
<text class="ann grn" x="1553" y="1015" textLength="137" lengthAdjust="spacingAndGlyphs">julio, cae 2%</text></g>
</g>

<!-- ============ Connectors ============ -->
<g id="connectors">
<line class="garrow" x1="270" y1="100" x2="1088" y2="336"/>
<line class="garrow" x1="1537" y1="110" x2="2294" y2="375"/>
<line class="garrow" x1="167" y1="555" x2="1037" y2="816"/>
<line class="garrow" x1="1519" y1="548" x2="2287" y2="803"/>
<line class="garrow" x1="1318" y1="985" x2="1685" y2="1105"/>
<line class="oarrow" x1="1398" y1="296" x2="1415" y2="321"/>
<line class="oarrow" x1="148" y1="717" x2="174" y2="766"/>
<line class="oarrow" x1="1342" y1="642" x2="1367" y2="665"/>
<line class="oarrow" x1="739" y1="1108" x2="755" y2="1153"/>
</g>
</svg>
